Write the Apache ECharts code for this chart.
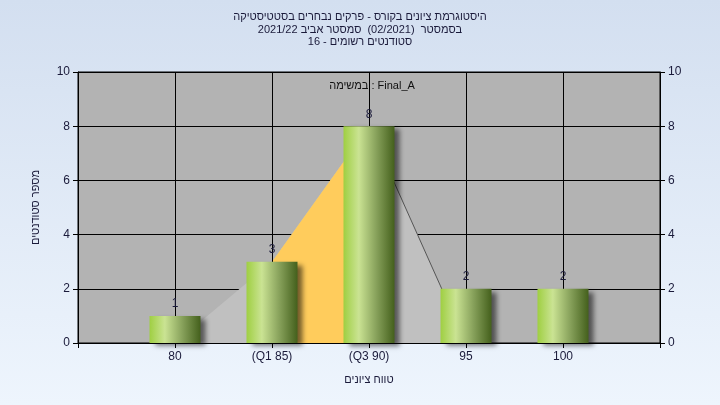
<!DOCTYPE html>
<html>
<head>
<meta charset="utf-8">
<script src="https://cdn.jsdelivr.net/npm/echarts@6/dist/echarts.min.js"></script>
<style>html,body{margin:0;padding:0;}#c{width:720px;height:405px;}</style>
</head>
<body>
<div id="c"></div>
<script>
// ---- data ----
const categories = ['', '80', '(Q1 85)', '(Q3 90)', '95', '100', ''];
const counts = [null, 1, 3, 8, 2, 2, null];
const curveValues = [null, 0, 3, 8, 0, null, null];
const quartileValues = [null, null, 3, 8, null, null, null];
const rightEdgeValues = [null, null, null, 8, 0, null, null];
const yTicks = { min: 0, max: 10, interval: 2 };
const titleLines = [
  'היסטוגרמת ציונים בקורס - פרקים נבחרים בסטטיסטיקה',
  'בסמסטר  (02/2021)  סמסטר אביב 2021/22',
  'סטודנטים רשומים - 16'
];
const taskLabel = 'במשימה : Final_A';
const xName = 'טווח ציונים';
const yName = 'מספר סטודנטים';

const FONT = 'Arial, "Liberation Sans", sans-serif';
const TXT = '#1a1a3a';

const chart = echarts.init(document.getElementById('c'));
const yAxisCommon = {
  type: 'value', min: yTicks.min, max: yTicks.max, interval: yTicks.interval,
  axisLine: { show: true, lineStyle: { color: '#000', width: 1 } },
  axisTick: { show: true, length: 5, lineStyle: { color: '#000' } },
  axisLabel: { color: TXT, fontSize: 12, fontFamily: FONT, margin: 8 },
};
chart.setOption({
  backgroundColor: new echarts.graphic.LinearGradient(0, 0, 0, 1, [
    { offset: 0, color: '#d3dff0' }, { offset: 1, color: '#eef5fd' }
  ]),
  animation: false,
  title: [{
    text: titleLines.join('\n'), left: 'center', top: 6,
    textStyle: { fontSize: 11, fontWeight: 'normal', color: TXT, fontFamily: FONT, lineHeight: 12.5 }
  }, {
    text: taskLabel, left: 367, top: 75, textAlign: 'center',
    textStyle: { fontSize: 11, fontWeight: 'normal', color: '#111', fontFamily: FONT }
  }],
  grid: { left: 78, right: 60, top: 72, bottom: 62, show: true, backgroundColor: '#b3b3b3', borderColor: '#000', borderWidth: 1, z: 0 },
  xAxis: {
    type: 'category', data: categories, boundaryGap: false,
    name: xName, nameLocation: 'middle', nameGap: 31,
    nameTextStyle: { color: TXT, fontSize: 11, fontFamily: FONT },
    axisLine: { lineStyle: { color: '#000' } },
    axisTick: { show: true, length: 5, lineStyle: { color: '#000' } },
    axisLabel: { color: TXT, fontSize: 12, fontFamily: FONT, margin: 8, interval: 0 },
    splitLine: { show: true, lineStyle: { color: '#000', width: 1 } },
    z: 3
  },
  yAxis: [
    Object.assign({}, yAxisCommon, {
      position: 'left', name: yName, nameLocation: 'middle', nameGap: 37, nameRotate: 90,
      nameTextStyle: { color: TXT, fontSize: 11, fontFamily: FONT },
      splitLine: { show: true, lineStyle: { color: '#000', width: 1 } }
    }),
    Object.assign({}, yAxisCommon, { position: 'right', splitLine: { show: false } })
  ],
  series: [
    {
      type: 'line', data: curveValues, symbol: 'none', z: 1,
      lineStyle: { width: 0 }, areaStyle: { color: '#c0c0c0', opacity: 1 }
    },
    {
      type: 'line', data: quartileValues, symbol: 'none', z: 1,
      lineStyle: { width: 0 }, areaStyle: { color: '#ffcc5c', opacity: 1 }
    },
    {
      type: 'line', data: rightEdgeValues, symbol: 'none', z: 4,
      lineStyle: { width: 1, color: '#555' }
    },
    {
      type: 'bar', data: counts, barWidth: 51, z: 5,
      itemStyle: {
        color: new echarts.graphic.LinearGradient(0, 0, 1, 0, [
          { offset: 0, color: '#9fcf42' },
          { offset: 0.3, color: '#cae393' },
          { offset: 0.65, color: '#86a05a' },
          { offset: 1, color: '#44601c' }
        ]),
        shadowColor: 'rgba(0,0,0,0.55)', shadowBlur: 5, shadowOffsetX: 5, shadowOffsetY: 3
      },
      label: { show: true, position: 'top', distance: 6, color: TXT, fontSize: 12, fontFamily: FONT }
    }
  ]
});
</script>
</body>
</html>
